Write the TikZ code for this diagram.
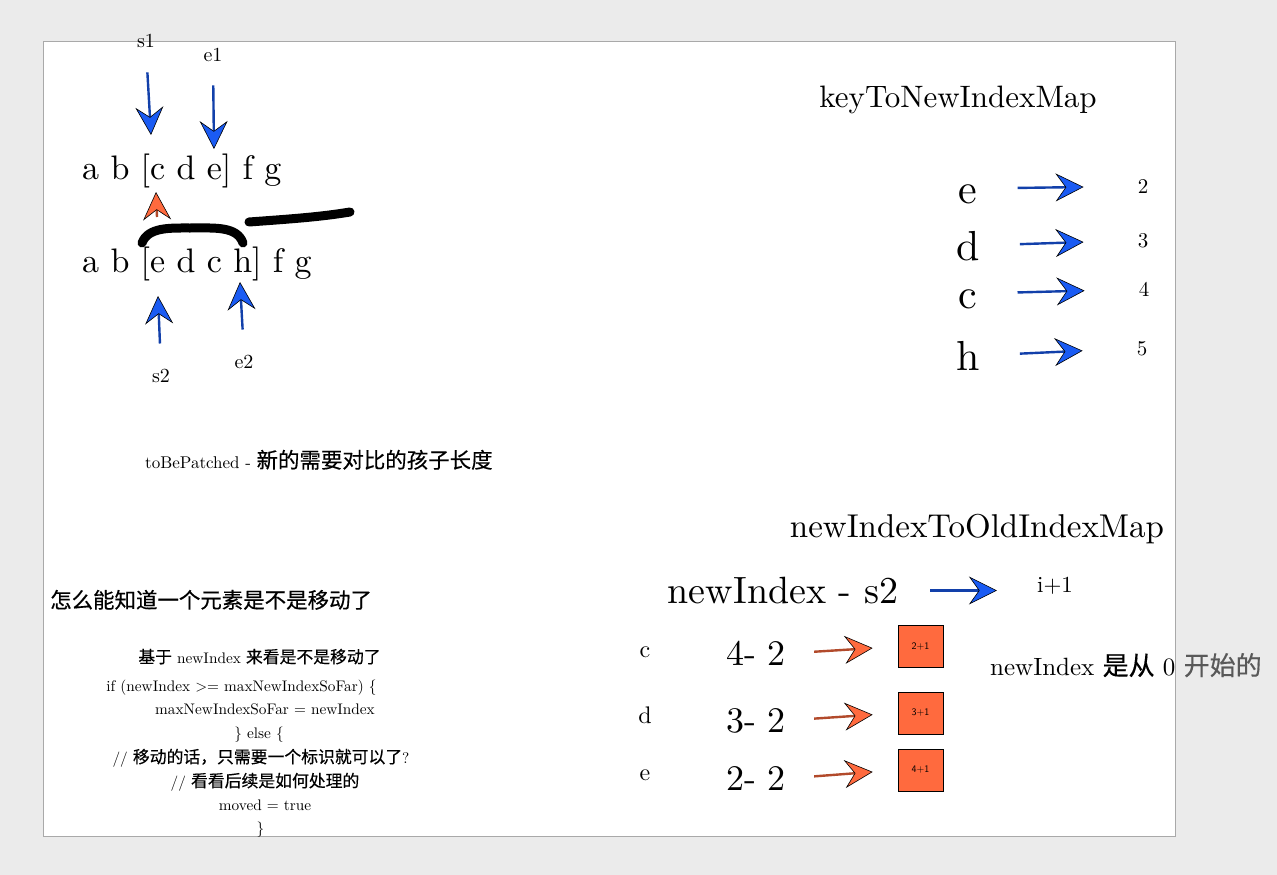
\documentclass[tikz,border=0pt]{standalone}
\usepackage{fontspec}
\setmainfont{lmroman10-regular.otf}
\newfontfamily\cjk[Scale=1.1, FakeBold=0.45]{Noto Sans CJK SC}
\usepackage{xcolor}
\usepackage{tikz}
\usetikzlibrary{arrows.meta}
\definecolor{pagegray}{HTML}{EBEBEB}
\definecolor{framegray}{HTML}{A9A9A9}
\definecolor{arrblue}{HTML}{1A5BF3}
\definecolor{arrorange}{HTML}{FF6A3E}
\newcommand\sz[1]{\fontsize{#1}{#1}\selectfont}

\begin{document}
\begin{tikzpicture}[x=1pt, y=-1pt,
    txt/.style={inner sep=0pt, anchor=base},
    fatarrow/.style={draw=#1!70!black, line width=2.4pt,
        -{Stealth[length=28pt, width=28pt, inset=10pt, fill=#1, color=black, line width=0.6pt]}},
    marker/.style={draw=black, line width=9pt, line cap=round},
    keyletter/.style={txt, font=\sz{42}, text height=29pt, text depth=0pt},
    keyval/.style={txt, font=\sz{21}, text height=13.5pt, text depth=0pt},
    exprtxt/.style={txt, font=\sz{36}, text height=23pt, text depth=0pt},
    numbox/.style={draw=black, fill=arrorange, line width=0.8pt, minimum width=45pt,
        minimum height=42pt, inner sep=0pt, font=\sffamily\sz{10}},
    codeline/.style={txt, font=\sz{15.3}}]
    \useasboundingbox (0,0) rectangle (1277,875);
    \fill[pagegray] (0,0) rectangle (1277,875);
    \filldraw[fill=white, draw=framegray, line width=0.8pt] (43,41) rectangle (1175,836);

    % old and new children
    \node[txt, anchor=base west, font=\sz{34}] (oldrow) at (82,179) {a b [c d e] f g};
    \node[txt, anchor=base west, font=\sz{34}] (newrow) at (82,272) {a b [e d c h] f g};
    \node[txt, font=\sz{20}] (s1) at (146,48) {s1};
    \node[txt, font=\sz{20}] (e1) at (213,62) {e1};
    \node[txt, font=\sz{20}] (s2) at (161,382) {s2};
    \node[txt, font=\sz{20}] (e2) at (244,368) {e2};
    \coordinate (s1tip) at (151,135);
    \coordinate (e1tip) at (214,149);
    \coordinate (s2tip) at (158,296);
    \coordinate (e2tip) at (240,282);
    \draw[fatarrow=arrblue, shorten <=24pt] (s1.south) -- (s1tip);
    \draw[fatarrow=arrblue, shorten <=23pt] (e1.south) -- (e1tip);
    \draw[fatarrow=arrblue, shorten <=25pt] (s2.north) -- (s2tip);
    \draw[fatarrow=arrblue, shorten <=25pt] (e2.north) -- (e2tip);
    \coordinate (upbase) at (157,217);
    \coordinate (uptip) at (156,192);
    \draw[fatarrow=arrorange] (upbase) -- (uptip);
    % hand drawn marks
    \draw[marker] (142,243) .. controls (148,227) and (170,228) .. (190,228)
        .. controls (215,228) and (237,226) .. (243,243);
    \draw[marker] (249,222) .. controls (290,219) and (320,217) .. (350,212);

    \node[txt, anchor=base west, font=\sz{17}] (patched) at (145,468)
        {toBePatched - {\cjk\sz{19.5}新的需要对比的孩子长度}};

    % keyToNewIndexMap
    \node[txt, font=\sz{31}] (keymap) at (958,107) {keyToNewIndexMap};
    \foreach \k/\v/\y/\vx/\vy in {e/2/203/1143/193, d/3/260/1143/247, c/4/308/1144/296, h/5/370/1142/355} {
        \node[keyletter] (key\k) at (968,\y) {\k};
        \node[keyval] (val\k) at (\vx,\vy) {\v};
        \draw[fatarrow=arrblue, shorten <=40pt, shorten >=54pt] (key\k.east) -- (val\k.west);
    }

    % moved or not
    \node[txt, anchor=base west, font=\sz{19.5}] (question) at (50,608)
        {\cjk 怎么能知道一个元素是不是移动了};
    \node[codeline] (code1) at (259.5,663) {{\cjk 基于} newIndex {\cjk 来看是不是移动了}};
    \node[codeline] (code2) at (241.5,691) {if (newIndex >= maxNewIndexSoFar) \{};
    \node[codeline] (code3) at (265,714) {maxNewIndexSoFar = newIndex};
    \node[codeline] (code4) at (259,738) {\} else \{};
    \node[codeline] (code5) at (261,763) {// {\cjk 移动的话，只需要一个标识就可以了}?};
    \node[codeline] (code6) at (265,787) {// {\cjk 看看后续是如何处理的}};
    \node[codeline] (code7) at (265,810) {moved = true};
    \node[codeline] (code8) at (260.5,833) {\}};

    % newIndexToOldIndexMap
    \node[txt, font=\sz{33}] (oldmap) at (977,537) {newIndexToOldIndexMap};
    \node[txt, font=\sz{38}, text height=25pt, text depth=0pt] (formula) at (783,603) {newIndex - s2};
    \node[txt, font=\sz{23}] (iplus) at (1055,592) {i+1};
    \draw[fatarrow=arrblue, shorten <=32pt, shorten >=40pt] (formula.east) -- (formula.east -| iplus.west);
    \foreach \k/\a/\ly/\ey/\by/\bt in {c/4/657/665/646.5/2+1, d/3/723/732/713/3+1, e/2/780/790/770/4+1} {
        \node[txt, font=\sz{24}] (lab\k) at (645,\ly) {\k};
        \node[exprtxt] (expr\k) at (756,\ey) {\a- 2};
        \node[numbox] (box\k) at (920.5,\by) {\bt};
        \draw[fatarrow=arrorange, shorten <=28pt, shorten >=25pt] (expr\k.east) -- (box\k.west);
    }
    \node[txt, anchor=base west, font=\sz{25}] (zero) at (990,675)
        {newIndex {\cjk\sz{23.6}是从} 0 \textcolor{black!65}{\cjk\sz{23.6}开始的}};
\end{tikzpicture}
\end{document}
